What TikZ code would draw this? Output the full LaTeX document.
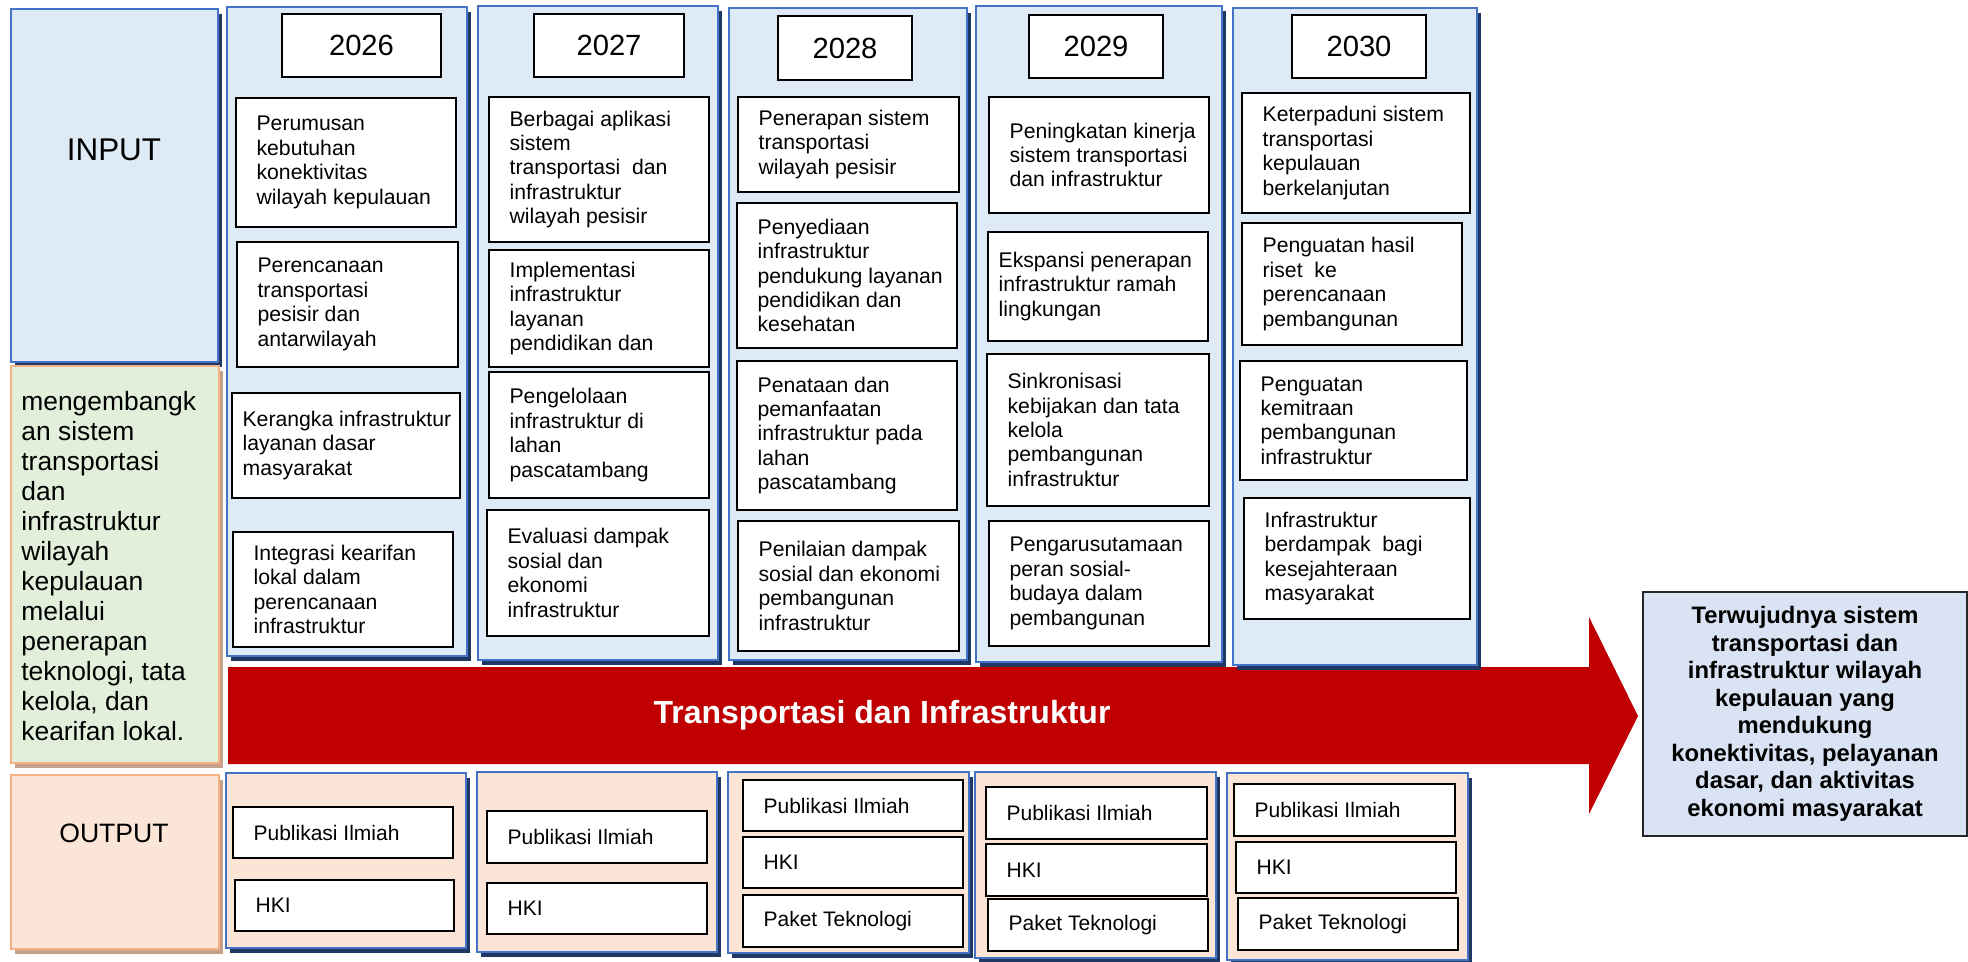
\documentclass[tikz,border=0pt]{standalone}
\usepackage{fontspec}
\setmainfont{Liberation Sans}
\usetikzlibrary{shadows}
\definecolor{colfill}{HTML}{DEEAF6}
\definecolor{colline}{HTML}{4472C4}
\definecolor{navyshadow}{HTML}{1F3864}
\definecolor{greenfill}{HTML}{E2EFDA}
\definecolor{orangeline}{HTML}{F4B183}
\definecolor{peachfill}{HTML}{FBE5D6}
\definecolor{tanshadow}{HTML}{C9A08A}
\definecolor{barred}{HTML}{C00000}
\definecolor{goalfill}{HTML}{DAE3F3}
\begin{document}
\begin{tikzpicture}[x=0.5pt, y=-0.5pt]
\tikzstyle{colbox} = [draw=colline, line width=1.1pt, fill=colfill, inner sep=0pt, drop shadow={shadow xshift=2pt, shadow yshift=-2.5pt, fill=navyshadow, opacity=1}]
\tikzstyle{outcol} = [colbox, fill=peachfill]
\tikzstyle{sidebox} = [draw=orangeline, line width=1.1pt, inner sep=0pt, drop shadow={shadow xshift=2pt, shadow yshift=-2.5pt, fill=tanshadow, opacity=1}]
\tikzstyle{cell} = [draw=black, line width=0.8pt, fill=white, inner sep=0pt]
\tikzstyle{celltext} = [anchor=west, align=left, inner sep=0pt, font=\fontsize{10.6}{12.2}\selectfont]
\tikzstyle{outtext} = [anchor=west, inner sep=0pt, font=\fontsize{10.5}{12}\selectfont]
\tikzstyle{yearbox} = [cell, font=\fontsize{14.6}{16}\selectfont]
\useasboundingbox (0,0) rectangle (1968,962);
\fill[barred] (228,667) -- (1589,667) -- (1589,617) -- (1638,716) -- (1589,814) -- (1589,764) -- (228,764) -- cycle;
\node[text=white, font=\fontsize{16}{19}\selectfont\bfseries] (bar) at (882,715) {Transportasi dan Infrastruktur};
\node[colbox, minimum width=103.5pt, minimum height=176.5pt] (input) at (114.5,185.5) {};
\node[font=\fontsize{15.7}{18}\selectfont] (inputlbl) at (114,150) {INPUT};
\node[sidebox, fill=greenfill, minimum width=104pt, minimum height=198.5pt] (aimbox) at (115,564.5) {};
\node[anchor=west, align=left, inner sep=0pt, font=\fontsize{13.2}{15}\selectfont] (aim) at (21,566) {mengembangk\\an sistem\\transportasi\\dan\\infrastruktur\\wilayah\\kepulauan\\melalui\\penerapan\\teknologi, tata\\kelola, dan\\kearifan lokal.};
\node[sidebox, fill=peachfill, minimum width=104pt, minimum height=87pt] (output) at (115,862) {};
\node[font=\fontsize{13.3}{16}\selectfont] (outputlbl) at (114,833) {OUTPUT};
\foreach \nm/\xa/\ya/\xb/\yb in {col26/227/7/467/656, col27/478/6/718/660, col28/729/8/967/660, col29/976/6/1222/662, col30/1233/8/1477/665}
    \node[colbox, minimum width={(\xb-\xa)*0.5pt}, minimum height={(\yb-\ya)*0.5pt}] (\nm) at ({(\xa+\xb)/2},{(\ya+\yb)/2}) {};
\foreach \nm/\xa/\ya/\xb/\yb in {out26/226/773/466/948, out27/477/772/717/952, out28/728/772/969/953, out29/975/772/1216/958, out30/1227/773/1468/960}
    \node[outcol, minimum width={(\xb-\xa)*0.5pt}, minimum height={(\yb-\ya)*0.5pt}] (\nm) at ({(\xa+\xb)/2},{(\ya+\yb)/2}) {};
\foreach \yr/\xa/\ya/\xb/\yb in {2026/282/14/441/77, 2027/534/14/684/77, 2028/778/16/912/80, 2029/1029/15/1163/78, 2030/1292/15/1426/78}
    \node[yearbox, minimum width={(\xb-\xa)*0.5pt}, minimum height={(\yb-\ya)*0.5pt}] (y\yr) at ({(\xa+\xb)/2},{(\ya+\yb)/2}) {\yr};
\foreach \nm/\xa/\ya/\xb/\yb/\pd/\lbl in {
    a1/236/98/456/227/21/{Perumusan\\kebutuhan\\konektivitas\\wilayah kepulauan},
    a2/237/242/458/367/21/{Perencanaan\\transportasi\\pesisir dan\\antarwilayah},
    a3/232/393/460/498/11/{Kerangka infrastruktur\\layanan dasar\\masyarakat},
    a4/233/532/453/647/21/{Integrasi kearifan\\lokal dalam\\perencanaan\\infrastruktur},
    b1/489/97/709/242/21/{Berbagai aplikasi\\sistem\\transportasi \ dan\\infrastruktur\\wilayah pesisir},
    b2/489/250/709/367/21/{Implementasi\\infrastruktur\\layanan\\pendidikan dan},
    b3/489/372/709/498/21/{Pengelolaan\\infrastruktur di\\lahan\\pascatambang},
    b4/487/510/709/636/21/{Evaluasi dampak\\sosial dan\\ekonomi\\infrastruktur},
    c1/738/97/959/192/21/{Penerapan sistem\\transportasi\\wilayah pesisir},
    c2/737/203/957/348/21/{Penyediaan\\infrastruktur\\pendukung layanan\\pendidikan dan\\kesehatan},
    c3/737/361/957/510/21/{Penataan dan\\pemanfaatan\\infrastruktur pada\\lahan\\pascatambang},
    c4/738/521/959/651/21/{Penilaian dampak\\sosial dan ekonomi\\pembangunan\\infrastruktur},
    d1/989/97/1209/213/21/{Peningkatan kinerja\\sistem transportasi\\dan infrastruktur},
    d2/988/232/1208/341/11/{Ekspansi penerapan\\infrastruktur ramah\\lingkungan},
    d3/987/354/1209/506/21/{Sinkronisasi\\kebijakan dan tata\\kelola\\pembangunan\\infrastruktur},
    d4/989/521/1209/646/21/{Pengarusutamaan\\peran sosial-\\budaya dalam\\pembangunan},
    e1/1242/93/1470/213/21/{Keterpaduni sistem\\transportasi\\kepulauan\\berkelanjutan},
    e2/1242/223/1462/345/21/{Penguatan hasil\\riset \ ke\\perencanaan\\pembangunan},
    e3/1240/361/1467/480/21/{Penguatan\\kemitraan\\pembangunan\\infrastruktur},
    e4/1244/498/1470/619/21/{Infrastruktur\\berdampak \ bagi\\kesejahteraan\\masyarakat}}
{
    \node[cell, minimum width={(\xb-\xa)*0.5pt}, minimum height={(\yb-\ya)*0.5pt}] (\nm) at ({(\xa+\xb)/2},{(\ya+\yb)/2}) {};
    \node[celltext] (t\nm) at ([xshift={\pd*0.5pt}]\nm.west) {\lbl};
}
\foreach \nm/\xa/\ya/\xb/\yb/\lbl in {
    p26/233/807/453/858/Publikasi Ilmiah, h26/235/880/454/931/HKI,
    p27/487/811/707/863/Publikasi Ilmiah, h27/487/883/707/934/HKI,
    p28/743/780/963/831/Publikasi Ilmiah, h28/743/837/963/888/HKI, k28/743/895/963/947/Paket Teknologi,
    p29/986/787/1207/839/Publikasi Ilmiah, h29/986/844/1207/896/HKI, k29/988/899/1208/951/Paket Teknologi,
    p30/1234/784/1455/836/Publikasi Ilmiah, h30/1236/842/1456/893/HKI, k30/1238/898/1458/950/Paket Teknologi}
{
    \node[cell, minimum width={(\xb-\xa)*0.5pt}, minimum height={(\yb-\ya)*0.5pt}] (\nm) at ({(\xa+\xb)/2},{(\ya+\yb)/2}) {};
    \node[outtext] (t\nm) at ([xshift=10.5pt]\nm.west) {\lbl};
}
\node[draw=black!85, line width=0.8pt, fill=goalfill, minimum width=162pt, minimum height=122pt, align=center, font=\fontsize{11.9}{13.75}\selectfont\bfseries] (goal) at (1805,714) {Terwujudnya sistem\\transportasi dan\\infrastruktur wilayah\\kepulauan yang\\mendukung\\konektivitas, pelayanan\\dasar, dan aktivitas\\ekonomi masyarakat};
\end{tikzpicture}
\end{document}
